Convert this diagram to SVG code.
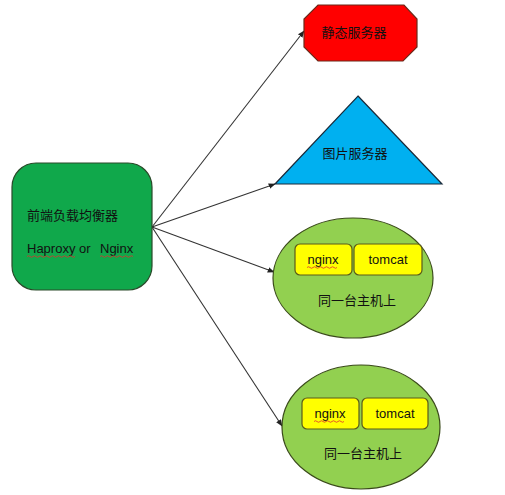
<svg xmlns="http://www.w3.org/2000/svg" width="505" height="495" viewBox="0 0 505 495">
<defs>
<marker id="ah" viewBox="0 0 10 10" refX="9" refY="5" markerWidth="7" markerHeight="7" orient="auto" markerUnits="userSpaceOnUse">
<path d="M0,1 L10,5 L0,9 z" fill="#222"/>
</marker>
<style>
.t{font-family:"Liberation Sans","Noto Sans CJK SC",sans-serif;font-size:13px;fill:#111;}
.c{text-anchor:middle;}
.box{fill:#ffff00;stroke:#5a5a1a;stroke-width:1.2;}
.ell{fill:#92d050;stroke:#3a4a1a;stroke-width:1.2;}
.edge{stroke:#333;stroke-width:1.1;fill:none;marker-end:url(#ah);}
.sq{stroke:#e03030;stroke-width:0.8;fill:none;}
</style>
</defs>
<rect width="505" height="495" fill="#fff"/>
<g id="connectors">
<line class="edge" x1="152" y1="227" x2="304" y2="31"/>
<line class="edge" x1="152" y1="227" x2="275" y2="184"/>
<line class="edge" x1="152" y1="227" x2="274" y2="272"/>
<line class="edge" x1="152" y1="227" x2="282" y2="426"/>
</g>
<g id="lb">
<rect x="12" y="163" width="140" height="127" rx="24" ry="24" fill="#10a84b" stroke="#2a4a2a" stroke-width="1.2"/>
<text class="t" x="27" y="220">前端负载均衡器</text>
<text class="t" x="27" y="253">Haproxy or</text>
<text class="t" x="100" y="253">Nginx</text>
<path class="sq" d="M27,256.5 q1.5,-1.5 3,0 t3,0 t3,0 t3,0 t3,0 t3,0 t3,0 t3,0 t3,0 t3,0 t3,0 t3,0 t3,0 t3,0 t3,0 t3,0"/>
<path class="sq" d="M100,256.5 q1.5,-1.5 3,0 t3,0 t3,0 t3,0 t3,0 t3,0 t3,0 t3,0 t3,0 t3,0 t3,0"/>
</g>
<g id="static">
<polygon points="318,5 404,5 417,19 417,47 403,61 318,61 304,47 304,19" fill="#ff0000" stroke="#6a2a1a" stroke-width="1.2"/>
<text class="t c" x="354" y="37">静态服务器</text>
</g>
<g id="image">
<polygon points="358,96 442,184 275,184" fill="#00b0f0" stroke="#1a2a3a" stroke-width="1.2"/>
<text class="t c" x="355" y="158">图片服务器</text>
</g>
<g id="host1">
<ellipse class="ell" cx="353" cy="278" rx="80" ry="60"/>
<rect class="box" x="295" y="244" width="57" height="31" rx="5"/>
<rect class="box" x="354" y="244" width="68" height="31" rx="5"/>
<text class="t c" x="323" y="264">nginx</text>
<path class="sq" d="M307,267.5 q1.5,-1.5 3,0 t3,0 t3,0 t3,0 t3,0 t3,0 t3,0 t3,0 t3,0 t3,0"/>
<text class="t c" x="388" y="264">tomcat</text>
<text class="t c" x="357" y="305">同一台主机上</text>
</g>
<g id="host2">
<ellipse class="ell" cx="361" cy="427" rx="79" ry="62"/>
<rect class="box" x="302" y="398" width="57" height="31" rx="5"/>
<rect class="box" x="362" y="398" width="66" height="31" rx="5"/>
<text class="t c" x="330" y="418">nginx</text>
<path class="sq" d="M314,421.5 q1.5,-1.5 3,0 t3,0 t3,0 t3,0 t3,0 t3,0 t3,0 t3,0 t3,0 t3,0"/>
<text class="t c" x="395" y="418">tomcat</text>
<text class="t c" x="363" y="458">同一台主机上</text>
</g>
</svg>
